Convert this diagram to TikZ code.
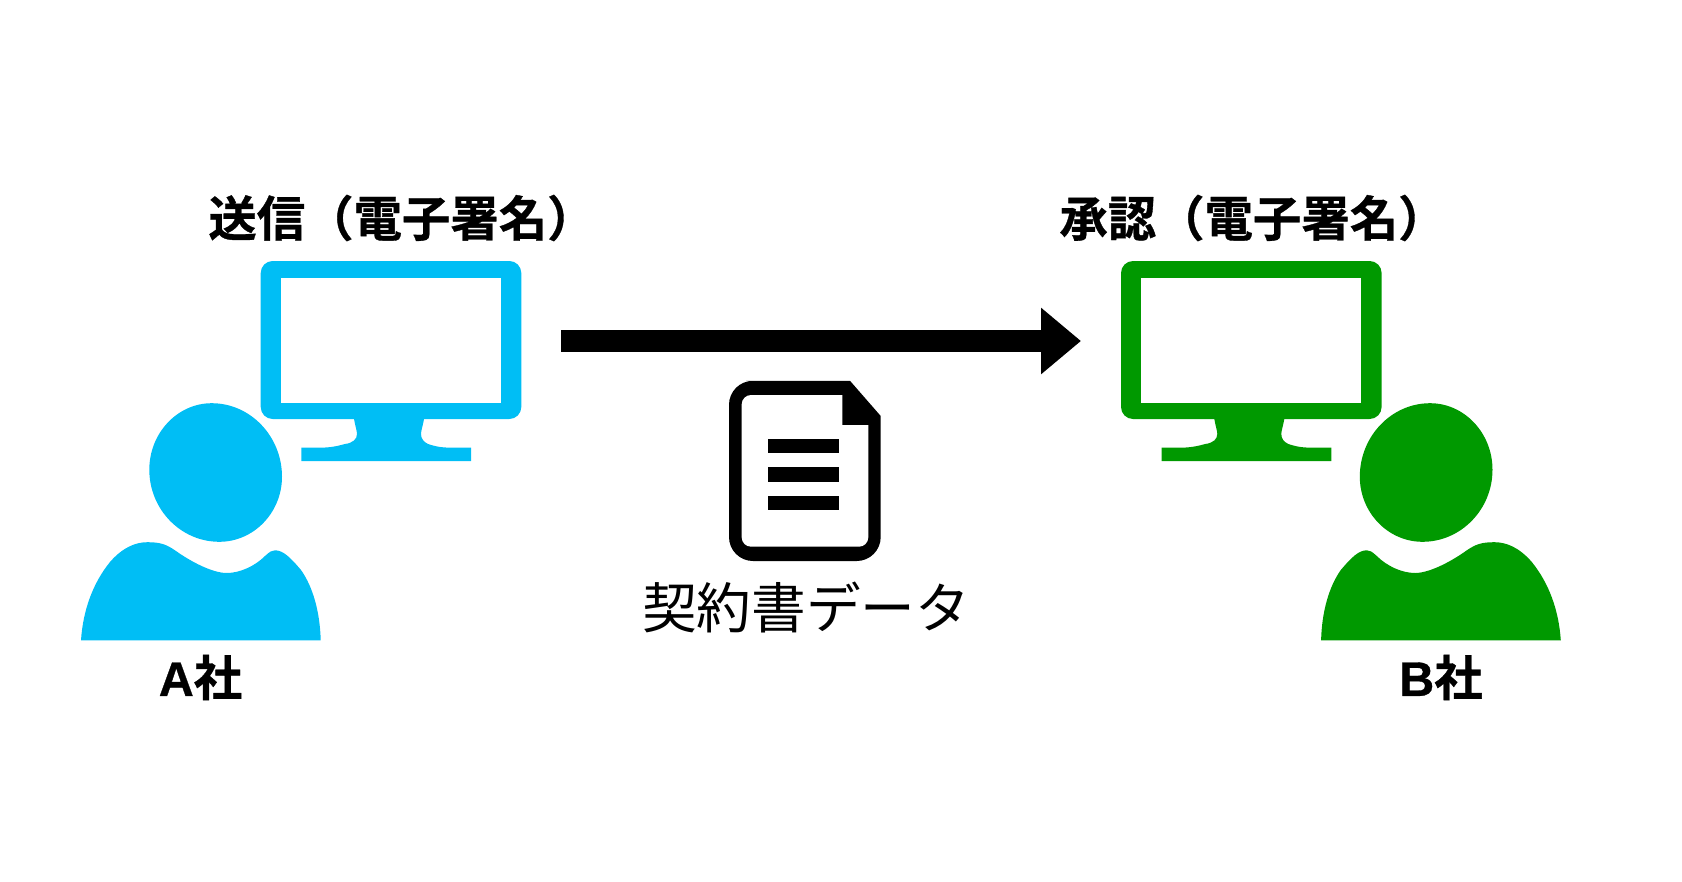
\documentclass[tikz,border=0pt]{standalone}
\usepackage{fontspec}
\usetikzlibrary{arrows.meta}
\newfontfamily\jpbold[FakeBold=0.7]{Noto Sans CJK JP Bold}
\newfontfamily\jpreg{Noto Sans CJK JP}
\newfontfamily\latbold[FakeBold=0.7]{Liberation Sans Bold}
\definecolor{ablue}{HTML}{00BEF5}
\definecolor{bgreen}{HTML}{009900}
\tikzset{
  heading/.style={font=\jpbold\fontsize{36.3pt}{38pt}\selectfont,text=black,inner sep=0pt},
  company/.style={font=\jpbold\fontsize{36.3pt}{38pt}\selectfont,text=black,inner sep=0pt},
  doclabel/.style={font=\jpreg\fontsize{41pt}{44pt}\selectfont,text=black,inner sep=0pt},
  pics/monitor/.style={code={
    \fill[#1,rounded corners=9pt]
      (260.7,261) -- (521.3,261) -- (521.3,419) -- (260.7,419) -- cycle;
    \fill[white] (280.5,277.6) rectangle (501,403);
    \fill[#1] (354,417) -- (354,419) .. controls (355,425) and (357,431) .. (357,434)
      .. controls (357,439) and (353,443) .. (345,444)
      .. controls (338,446) and (330,447.6) .. (322,447.6) -- (301.4,447.6) -- (301.4,461)
      -- (471,461) -- (471,447.6) -- (450,447.6)
      .. controls (440,447.6) and (434,446) .. (428,444)
      .. controls (424,442) and (421,439) .. (421,434)
      .. controls (421,431) and (423,425) .. (424,419) -- (424,417) -- cycle;
  }},
  pics/person/.style={code={
    \fill[#1] (211.7,403.2) .. controls (250.4,403.2) and (282,436.3) .. (282,476.7)
      .. controls (282,512.5) and (253.8,541.8) .. (219.3,541.8)
      .. controls (180.8,541.8) and (149.3,509.4) .. (149.3,469.7)
      .. controls (149.3,433.1) and (177.4,403.2) .. (211.7,403.2) -- cycle;
    \fill[#1] (81,640.4) .. controls (83,610) and (93,583) .. (110,562)
      .. controls (123,547) and (136,542.2) .. (147.3,542.2)
      .. controls (160,542.2) and (166,544) .. (176,551)
      .. controls (190,561) and (212,573) .. (226.7,573)
      .. controls (240,573) and (255,566) .. (265,556)
      .. controls (270,551.5) and (272,550.3) .. (275,550.3)
      .. controls (283,550.3) and (290,557) .. (301,570)
      .. controls (313,587) and (320,612) .. (320.7,640.4) -- cycle;
  }}
}
\begin{document}
\begin{tikzpicture}[x=0.75pt,y=-0.75pt]
\useasboundingbox (0,0) rectangle (1682,882);
% left side
\pic {monitor=ablue};
\pic {person=ablue};
% right side
\begin{scope}[shift={(860.3,0)}]
  \pic {monitor=bgreen};
\end{scope}
\begin{scope}[shift={(1641.8,0)},xscale=-1]
  \pic[transform shape] {person=bgreen};
\end{scope}
% arrow
\coordinate (arrowstart) at (561,341);
\coordinate (arrowend) at (1081,341);
\draw[line width=16.5pt,-{Triangle[length=30pt,width=48pt]}] (arrowstart) -- (arrowend);
% document icon
\fill[black,rounded corners=18pt] (729,561) -- (729,380.8) -- (770,380.8)
  [sharp corners] -- (850,380.8) -- (880.7,416) [rounded corners=18pt] -- (880.7,561) -- cycle;
\fill[white,rounded corners=7pt] (741.7,546.7) -- (741.7,395) -- (790,395)
  [sharp corners] -- (842.3,395) -- (842.3,425) -- (868.3,425) [rounded corners=7pt] -- (868.3,546.7) -- cycle;
\fill[black] (768.3,439) rectangle (839.3,453.3);
\fill[black] (768.3,467.3) rectangle (839.3,481.7);
\fill[black] (768.3,495.7) rectangle (839.3,510);
% texts
\node[heading] (sendlabel) at (402,218) {送信（電子署名）};
\node[heading] (approvelabel) at (1253,218) {承認（電子署名）};
\node[company] (alabel) at (200.5,677.5) {{\latbold A}社};
\node[company] (blabel) at (1441,677.5) {{\latbold B}社};
\node[doclabel] (doclabeltext) at (806,607) {契約書データ};
\end{tikzpicture}
\end{document}
